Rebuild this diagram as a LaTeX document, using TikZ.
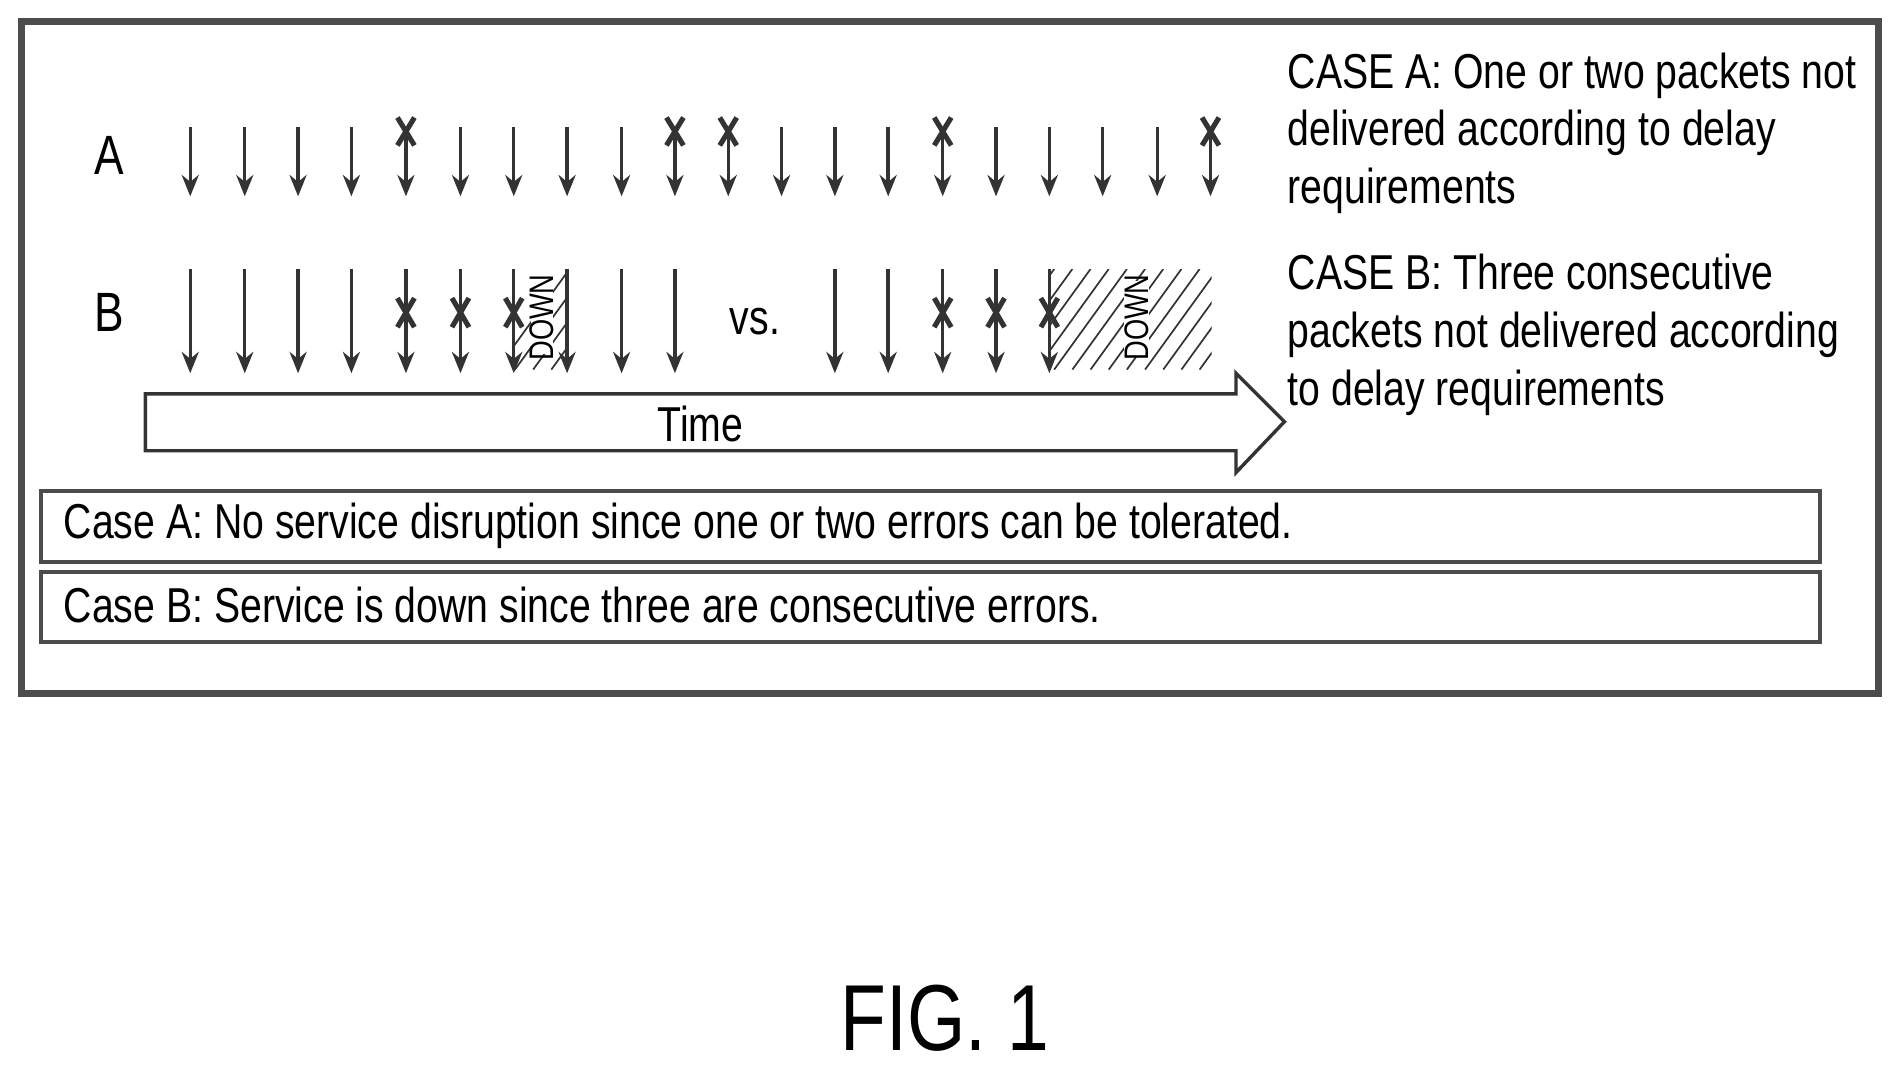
\documentclass[tikz,border=0pt]{standalone}
\usepackage{fontspec}
\setmainfont{Liberation Sans}[FakeStretch=0.8]
\usetikzlibrary{arrows.meta}
\begin{document}
\begin{tikzpicture}[x=0.01cm,y=-0.01cm]

	\tikzset{pkt/.style = {thick,-{Stealth[length=5pt,width=4pt]}, black!80},
		miss/.style = {very thick, black!80},
		txt/.style = {anchor=west, inner sep=0pt, font=\fontsize{11.5}{13.6}\selectfont, align=left},
		frame/.style = {draw=black!70, line width=1.6pt},
		casebox/.style = {draw=black!70, line width=1pt}}

	\useasboundingbox (0,0) rectangle (1568,881);

	% Frame
	\draw [frame] (18,18) rectangle (1550,572);

	% Row labels
	\node (labA) at (90,128) [font=\fontsize{13}{15}\selectfont] {A};
	\node (labB) at (90,258) [font=\fontsize{13}{15}\selectfont] {B};

	% Row A
	\foreach \x in {157,202,246,290,335,380,424,468,513,557,601,645,689,733,778,822,866,910,955,999}
		\draw [pkt] (\x,105) -- (\x,162);
	\foreach \x in {335,557,601,778,999} {
		\draw [miss] (\x-7,97) -- (\x+7,120);
		\draw [miss] (\x+7,97) -- (\x-7,120);
	}

	% Row B, hatched down periods
	\begin{scope}
		\clip (424,222) rectangle (468,305);
		\foreach \k in {0,...,8} \draw [black!80] (410+15*\k,305) -- (470+15*\k,222);
	\end{scope}
	\begin{scope}
		\clip (866,222) rectangle (1000,305);
		\foreach \k in {0,...,17} \draw [black!80] (810+15*\k,305) -- (870+15*\k,222);
	\end{scope}
	\fill [white] (438,234) rectangle (456,292);
	\fill [white] (928,232) rectangle (948,294);
	\node (downA) at (447,262) [rotate=90, font=\fontsize{8}{9}\selectfont, inner sep=0pt] {DOWN};
	\node (downB) at (938,262) [rotate=90, font=\fontsize{8}{9}\selectfont, inner sep=0pt] {DOWN};

	\foreach \x in {157,202,246,290,335,380,424,468,513,557,689,733,778,822,866}
		\draw [pkt] (\x,222) -- (\x,308);
	\foreach \x in {335,380,424,778,822,866} {
		\draw [miss] (\x-7,246) -- (\x+7,270);
		\draw [miss] (\x+7,246) -- (\x-7,270);
	}
	\node (vs) at (623,265) [font=\fontsize{11.5}{13.6}\selectfont] {vs.};

	% Time arrow
	\draw [thick, black!80] (120,325) -- (1020,325) -- (1020,308) -- (1060,348)
		-- (1020,390) -- (1020,372) -- (120,372) -- cycle;
	\node (time) at (578,350) [font=\fontsize{11.5}{13.6}\selectfont] {Time};

	% Case descriptions
	\node (caseA) at (1062,110) [txt] {CASE A: One or two packets not\\delivered according to delay\\requirements};
	\node (caseB) at (1062,276) [txt] {CASE B: Three consecutive\\packets not delivered according\\to delay requirements};

	% Result boxes
	\draw [casebox] (34,405) rectangle (1502,464);
	\draw [casebox] (34,472) rectangle (1502,530);
	\node (resA) at (52,434) [txt] {Case A: No service disruption since one or two errors can be tolerated.};
	\node (resB) at (52,499) [txt] {Case B: Service is down since three are consecutive errors.};

	\node (fig) at (780,840) [font=\fontsize{22}{26}\selectfont] {FIG. 1};

\end{tikzpicture}
\end{document}
